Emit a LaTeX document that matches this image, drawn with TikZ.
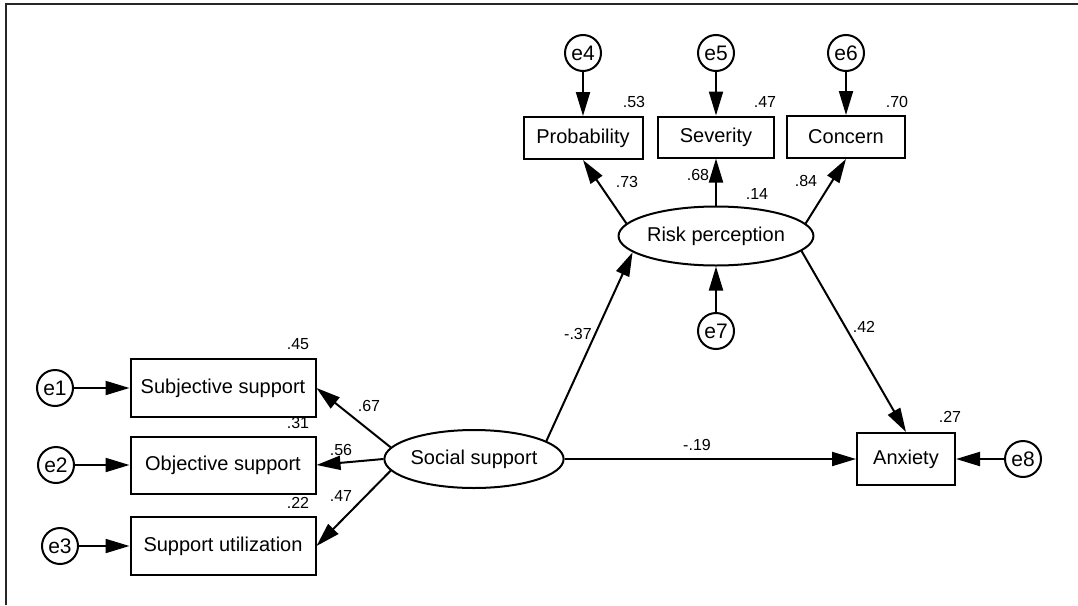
\documentclass[tikz,border=0pt]{standalone}
\usepackage{fontspec}
\setmainfont{Liberation Sans}
\usetikzlibrary{shapes.geometric,arrows.meta}

\tikzset{
  obs/.style={draw,line width=2pt,rectangle,inner sep=0pt,font=\fontsize{20}{24}\selectfont},
  lat/.style={draw,line width=2pt,ellipse,inner sep=0pt,font=\fontsize{20}{24}\selectfont},
  err/.style={draw,line width=2pt,circle,minimum size=36pt,inner sep=0pt,font=\fontsize{21}{24}\selectfont},
  coef/.style={inner sep=0pt,font=\fontsize{16}{19}\selectfont},
  arr/.style={-{Triangle[length=24pt,width=14pt]},line width=2pt}
}

\begin{document}
\begin{tikzpicture}[x=1pt,y=-1pt]

			\useasboundingbox (0,0) rectangle (1078,605);
			\draw[line width=1.8pt,black!85] (6,605) -- (6,4) -- (1078,4);

			% latent variables
			\node[lat,minimum width=175pt,minimum height=58pt] (ss) at (474,459) {Social support};
			\node[lat,minimum width=158pt,minimum height=59pt] (risk) at (716,236) {Risk perception};

			% indicators
			\node[obs,minimum width=185pt,minimum height=58pt] (subj) at (223,388) {Subjective support};
			\node[obs,minimum width=185pt,minimum height=57pt] (obj) at (223,465) {Objective support};
			\node[obs,minimum width=185pt,minimum height=58pt] (util) at (223,546) {Support utilization};
			\node[obs,minimum width=119pt,minimum height=42pt] (prob) at (583,138) {Probability};
			\node[obs,minimum width=116pt,minimum height=41pt] (sev) at (716,137) {Severity};
			\node[obs,minimum width=118pt,minimum height=42pt] (conc) at (846,137) {Concern};
			\node[obs,minimum width=98pt,minimum height=52pt] (anx) at (906,459) {Anxiety};

			% error terms
			\node[err] (e1) at (55,388) {e1};
			\node[err] (e2) at (56,465) {e2};
			\node[err] (e3) at (60,546) {e3};
			\node[err] (e4) at (583,53) {e4};
			\node[err] (e5) at (716,53) {e5};
			\node[err] (e6) at (846,53) {e6};
			\node[err] (e7) at (716,331) {e7};
			\node[err] (e8) at (1023,459) {e8};

			\draw[arr] (e1) -- (subj);
			\draw[arr] (e2) -- (obj);
			\draw[arr] (e3) -- (util);
			\draw[arr] (e4) -- (prob);
			\draw[arr] (e5) -- (sev);
			\draw[arr] (e6) -- (conc);
			\draw[arr] (e7) -- (risk);
			\draw[arr] (e8) -- (anx);

			\draw[arr] (ss.172) -- (subj.east);
			\draw[arr] (ss.west) -- (obj.east);
			\draw[arr] (ss.188) -- (util.east);
			\draw[arr] (ss.14) -- (risk.191);
			\draw[arr] (ss.east) -- (anx.west);
			\draw[arr] (risk.172) -- (prob.south);
			\draw[arr] (risk.north) -- (sev.south);
			\draw[arr] (risk.8) -- (conc.south);
			\draw[arr] (risk.350) -- (anx.north);

			% estimates
			\node[coef] (r2subj) at (298,344) {.45};
			\node[coef] (r2obj) at (298,423) {.31};
			\node[coef] (r2util) at (298,503) {.22};
			\node[coef] (r2prob) at (634,102) {.53};
			\node[coef] (r2sev) at (765,102) {.47};
			\node[coef] (r2conc) at (897,102) {.70};
			\node[coef] (r2risk) at (757,194) {.14};
			\node[coef] (r2anx) at (950,417) {.27};
			\node[coef] (bsubj) at (369,406) {.67};
			\node[coef] (bobj) at (341,450) {.56};
			\node[coef] (butil) at (341,496) {.47};
			\node[coef] (bprob) at (627,182) {.73};
			\node[coef] (bsev) at (698,175) {.68};
			\node[coef] (bconc) at (806,181) {.84};
			\node[coef] (brisk) at (578,334) {-.37};
			\node[coef] (banx) at (864,327) {.42};
			\node[coef] (bdirect) at (697,445) {-.19};

\end{tikzpicture}
\end{document}
